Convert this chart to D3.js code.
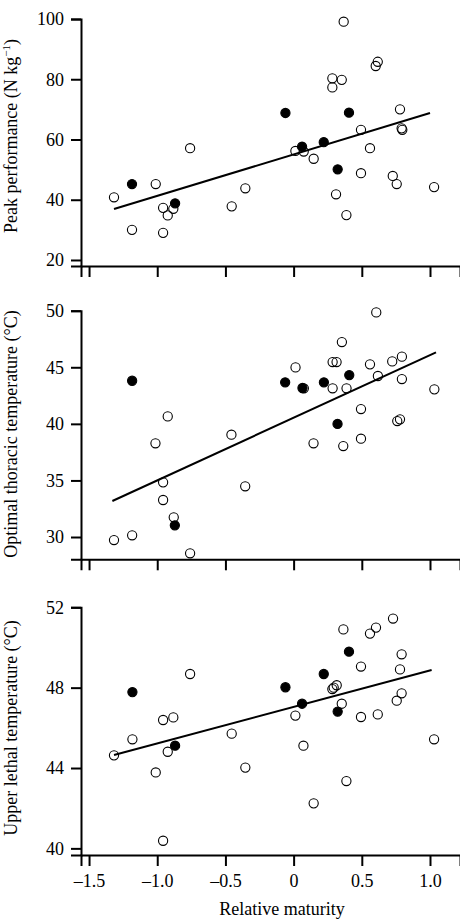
<!DOCTYPE html>
<html>
<head>
<meta charset="utf-8">
<script src="https://cdn.jsdelivr.net/npm/d3@7"></script>
<style>
  html, body { margin: 0; padding: 0; background: #fff; }
  svg { display: block; font-family: "Liberation Serif", "Times New Roman", serif; }
</style>
</head>
<body>
<svg id="chart"></svg>
<script>
// Relative maturity (x) read per panel, with the measured trait (y)
// solid = 1 for filled circles, 0 for open ones
const peakX = [-1.317, -1.185, -1.185, -1.011, -0.957, -0.923, -0.957, -0.882, -0.869, -0.759,
  -0.454, -0.354, -0.060, 0.013, 0.062, 0.074, 0.147, 0.221, 0.284, 0.284,
  0.353, 0.367, 0.323, 0.406, 0.311, 0.387, 0.494, 0.494, 0.560, 0.602,
  0.617, 0.727, 0.756, 0.780, 0.792, 0.797, 1.030];
const peakY = [40.8, 45.2, 30.0, 45.2, 37.3, 34.8, 29.0, 37.0, 38.8, 57.1,
  37.8, 43.8, 68.8, 56.2, 57.6, 56.0, 53.6, 59.1, 80.3, 77.3,
  79.8, 99.1, 50.1, 68.9, 41.8, 34.9, 63.2, 48.8, 57.1, 84.4,
  85.8, 47.9, 45.2, 70.0, 63.7, 63.2, 44.2];
const peakSolid = [0, 1, 0, 0, 0, 0, 0, 0, 1, 0,
  0, 0, 1, 0, 1, 0, 0, 1, 0, 0,
  0, 0, 1, 1, 0, 0, 0, 0, 0, 0,
  0, 0, 0, 0, 0, 0, 0];

const optX = [-1.317, -1.184, -1.184, -1.013, -0.923, -0.957, -0.957, -0.879, -0.871, -0.759,
  -0.456, -0.355, -0.062, 0.014, 0.065, 0.075, 0.146, 0.222, 0.286, 0.315,
  0.286, 0.354, 0.322, 0.388, 0.408, 0.364, 0.494, 0.494, 0.560, 0.618,
  0.606, 0.723, 0.760, 0.780, 0.794, 0.794, 1.032];
const optY = [29.73, 30.15, 43.81, 38.28, 40.66, 34.83, 33.27, 31.74, 31.03, 28.56,
  39.04, 34.48, 43.67, 44.99, 43.17, 43.14, 38.28, 43.67, 45.46, 45.46,
  43.14, 47.23, 39.99, 43.14, 44.31, 38.04, 38.69, 41.31, 45.26, 44.23,
  49.85, 45.52, 40.25, 40.40, 45.94, 43.96, 43.05];
const optSolid = [0, 0, 1, 0, 0, 0, 0, 0, 1, 0,
  0, 0, 1, 0, 1, 0, 0, 1, 0, 0,
  0, 0, 1, 0, 1, 0, 0, 0, 0, 0,
  0, 0, 0, 0, 0, 0, 0];

const lethalX = [-1.317, -1.182, -1.182, -1.011, -0.957, -0.957, -0.923, -0.882, -0.869, -0.759,
  -0.454, -0.354, -0.060, 0.013, 0.062, 0.072, 0.147, 0.221, 0.284, 0.294,
  0.316, 0.365, 0.323, 0.406, 0.353, 0.387, 0.494, 0.494, 0.560, 0.604,
  0.617, 0.729, 0.756, 0.792, 0.780, 0.792, 1.030];
const lethalY = [44.63, 47.78, 45.43, 43.78, 46.39, 40.38, 44.81, 46.52, 45.11, 48.68,
  45.71, 44.02, 48.02, 46.61, 47.20, 45.11, 42.24, 48.68, 47.93, 48.00,
  48.12, 50.90, 46.81, 49.79, 47.20, 43.35, 49.05, 46.54, 50.69, 50.99,
  46.67, 51.44, 47.35, 49.66, 48.91, 47.72, 45.43];
const lethalSolid = [0, 1, 0, 0, 0, 0, 0, 0, 1, 0,
  0, 0, 1, 0, 1, 0, 0, 1, 0, 0,
  0, 0, 1, 1, 0, 0, 0, 0, 0, 0,
  0, 0, 0, 0, 0, 0, 0];

// fitted regression lines: [x0, y0, x1, y1]
const peakFit = [-1.317, 36.9, 1.0, 68.8];
const optFit = [-1.329, 33.18, 1.044, 46.32];
const lethalFit = [-1.317, 44.65, 1.012, 48.88];

const xTicks = [-1.5, -1.0, -0.5, 0, 0.5, 1.0];
const peakTicks = [20, 40, 60, 80, 100];
const optTicks = [30, 35, 40, 45, 50];
const lethalTicks = [40, 44, 48, 52];

const width = 460, height = 920;
const axisLeftX = 81, axisRightX = 460;

const svg = d3.select("#chart")
  .attr("width", width)
  .attr("height", height)
  .attr("viewBox", [0, 0, width, height]);

const x = d3.scaleLinear([-1.559, 1.22], [axisLeftX, axisRightX]);

const fmtX = d => d === 0 ? "0" : (d < 0 ? "\u2013" : "") + Math.abs(d).toFixed(1);

const panels = [
  {xs: peakX, ys: peakY, solid: peakSolid, fit: peakFit, ticks: peakTicks,
   domain: [18, 100], range: [266, 19], titleY: 136, labels: false},
  {xs: optX, ys: optY, solid: optSolid, fit: optFit, ticks: optTicks,
   domain: [28.03, 50], range: [559.3, 310.7], titleY: 434, labels: false},
  {xs: lethalX, ys: lethalY, solid: lethalSolid, fit: lethalFit, ticks: lethalTicks,
   domain: [39.67, 52], range: [855, 607.3], titleY: 728, labels: true}
];
const titles = [
  null, // peak performance has a superscript, built below
  "Optimal thoracic temperature (\u00B0C)",
  "Upper lethal temperature (\u00B0C)"
];

panels.forEach((p, k) => {
  const y = d3.scaleLinear(p.domain, p.range);
  const g = svg.append("g");

  // y axis
  g.append("g")
    .attr("transform", `translate(${axisLeftX},0)`)
    .call(d3.axisLeft(y).tickValues(p.ticks).tickSizeOuter(0).tickSize(10).tickPadding(7))
    .call(a => a.selectAll("path, line").attr("stroke", "#000").attr("stroke-width", 2))
    .call(a => a.selectAll("text").attr("font-size", 18).attr("fill", "#000")
      .attr("font-family", "Liberation Serif, serif"));

  // x axis
  g.append("g")
    .attr("transform", `translate(0,${p.range[0]})`)
    .call(d3.axisBottom(x).tickValues(xTicks).tickSizeOuter(0).tickSize(11).tickPadding(8)
      .tickFormat(p.labels ? fmtX : () => ""))
    .call(a => a.selectAll("path, line").attr("stroke", "#000").attr("stroke-width", 2))
    .call(a => a.selectAll("text").attr("font-size", 18).attr("fill", "#000")
      .attr("font-family", "Liberation Serif, serif"));

  // regression line
  g.append("line")
    .attr("x1", x(p.fit[0])).attr("y1", y(p.fit[1]))
    .attr("x2", x(p.fit[2])).attr("y2", y(p.fit[3]))
    .attr("stroke", "#000").attr("stroke-width", 2);

  // points, open first then solid
  const idx = d3.range(p.xs.length).sort((a, b) => p.solid[a] - p.solid[b]);
  g.append("g").selectAll("circle")
    .data(idx)
    .join("circle")
    .attr("cx", i => x(p.xs[i]))
    .attr("cy", i => y(p.ys[i]))
    .attr("r", 4.6)
    .attr("fill", i => p.solid[i] ? "#000" : "none")
    .attr("stroke", "#000")
    .attr("stroke-width", 1.1);

  // y title
  const t = svg.append("text")
    .attr("transform", `translate(17,${p.titleY}) rotate(-90)`)
    .attr("text-anchor", "middle")
    .attr("font-size", 18)
    .attr("fill", "#000");
  if (k === 0) {
    t.append("tspan").text("Peak performance (N kg");
    t.append("tspan").attr("font-size", 11).attr("dy", -7).text("\u22121");
    t.append("tspan").attr("dy", 7).text(")");
  } else {
    t.text(titles[k]);
  }
});

svg.append("text")
  .attr("x", 282)
  .attr("y", 915)
  .attr("text-anchor", "middle")
  .attr("font-size", 18)
  .attr("fill", "#000")
  .text("Relative maturity");
</script>
</body>
</html>
